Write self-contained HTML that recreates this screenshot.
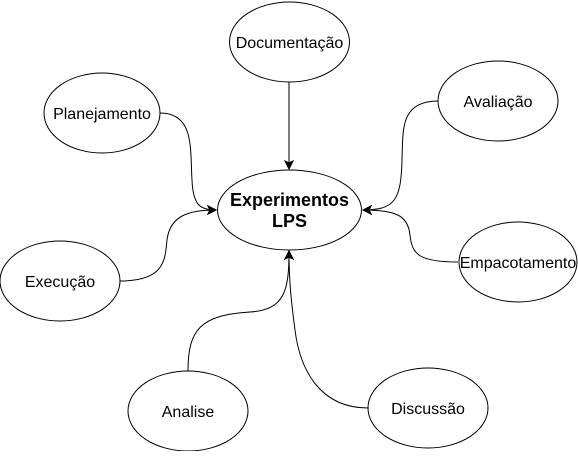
<!DOCTYPE html>
<html><head><meta charset="utf-8"><style>html,body{margin:0;padding:0;background:#fff}</style></head>
<body>
<svg width="578" height="451" viewBox="0 0 578 451" xmlns="http://www.w3.org/2000/svg" font-family="Liberation Sans, Arial, sans-serif">
<defs><marker id="a" markerWidth="10" markerHeight="10" refX="9" refY="5" orient="auto" markerUnits="userSpaceOnUse"><path d="M1,1 L9,5 L1,9 L3,5 Z" fill="#000" stroke="#000"/></marker></defs>
<g fill="none" stroke="#000" stroke-width="1">
<path d="M289,82 L289,169" marker-end="url(#a)"/>
<path d="M160,113 C195,113 190,150 192,180 C193,205 200,210 216,210" marker-end="url(#a)"/>
<path d="M120,281 C165,281 165,260 167,240 C170,215 190,210 216,210" marker-end="url(#a)"/>
<path d="M438,101 C400,101 403,130 402,160 C401,200 395,210 363,210" marker-end="url(#a)"/>
<path d="M458,262 C420,262 412,255 410,235 C408,215 395,210 363,210" marker-end="url(#a)"/>
<path d="M188,371 C188,330 200,315 250,312 C285,310 289,290 289,251" marker-end="url(#a)"/>
<path d="M368,408 C320,408 300,370 295,330 C291,300 289,280 289,251" marker-end="url(#a)"/>
</g>
<g fill="#fff" stroke="#000" stroke-width="1">
<ellipse cx="289.5" cy="42" rx="60" ry="40"/>
<ellipse cx="102" cy="113" rx="58" ry="40"/>
<ellipse cx="498" cy="101" rx="60" ry="40"/>
<ellipse cx="289.5" cy="210" rx="72" ry="40"/>
<ellipse cx="60" cy="281" rx="60" ry="40"/>
<ellipse cx="518" cy="262" rx="59" ry="40"/>
<ellipse cx="188" cy="411" rx="60" ry="40"/>
<ellipse cx="428" cy="408" rx="60" ry="40"/>
</g>
<g font-size="16" text-anchor="middle" fill="#000">
<text x="289.5" y="48">Documentação</text>
<text x="102" y="119">Planejamento</text>
<text x="498" y="107">Avaliação</text>
<text x="60" y="287">Execução</text>
<text x="518" y="268">Empacotamento</text>
<text x="188" y="417">Analise</text>
<text x="428" y="414">Discussão</text>
<text x="289.5" y="206" font-size="18" font-weight="bold">Experimentos</text>
<text x="289.5" y="227" font-size="18" font-weight="bold">LPS</text>
</g>
</svg>
</body></html>
